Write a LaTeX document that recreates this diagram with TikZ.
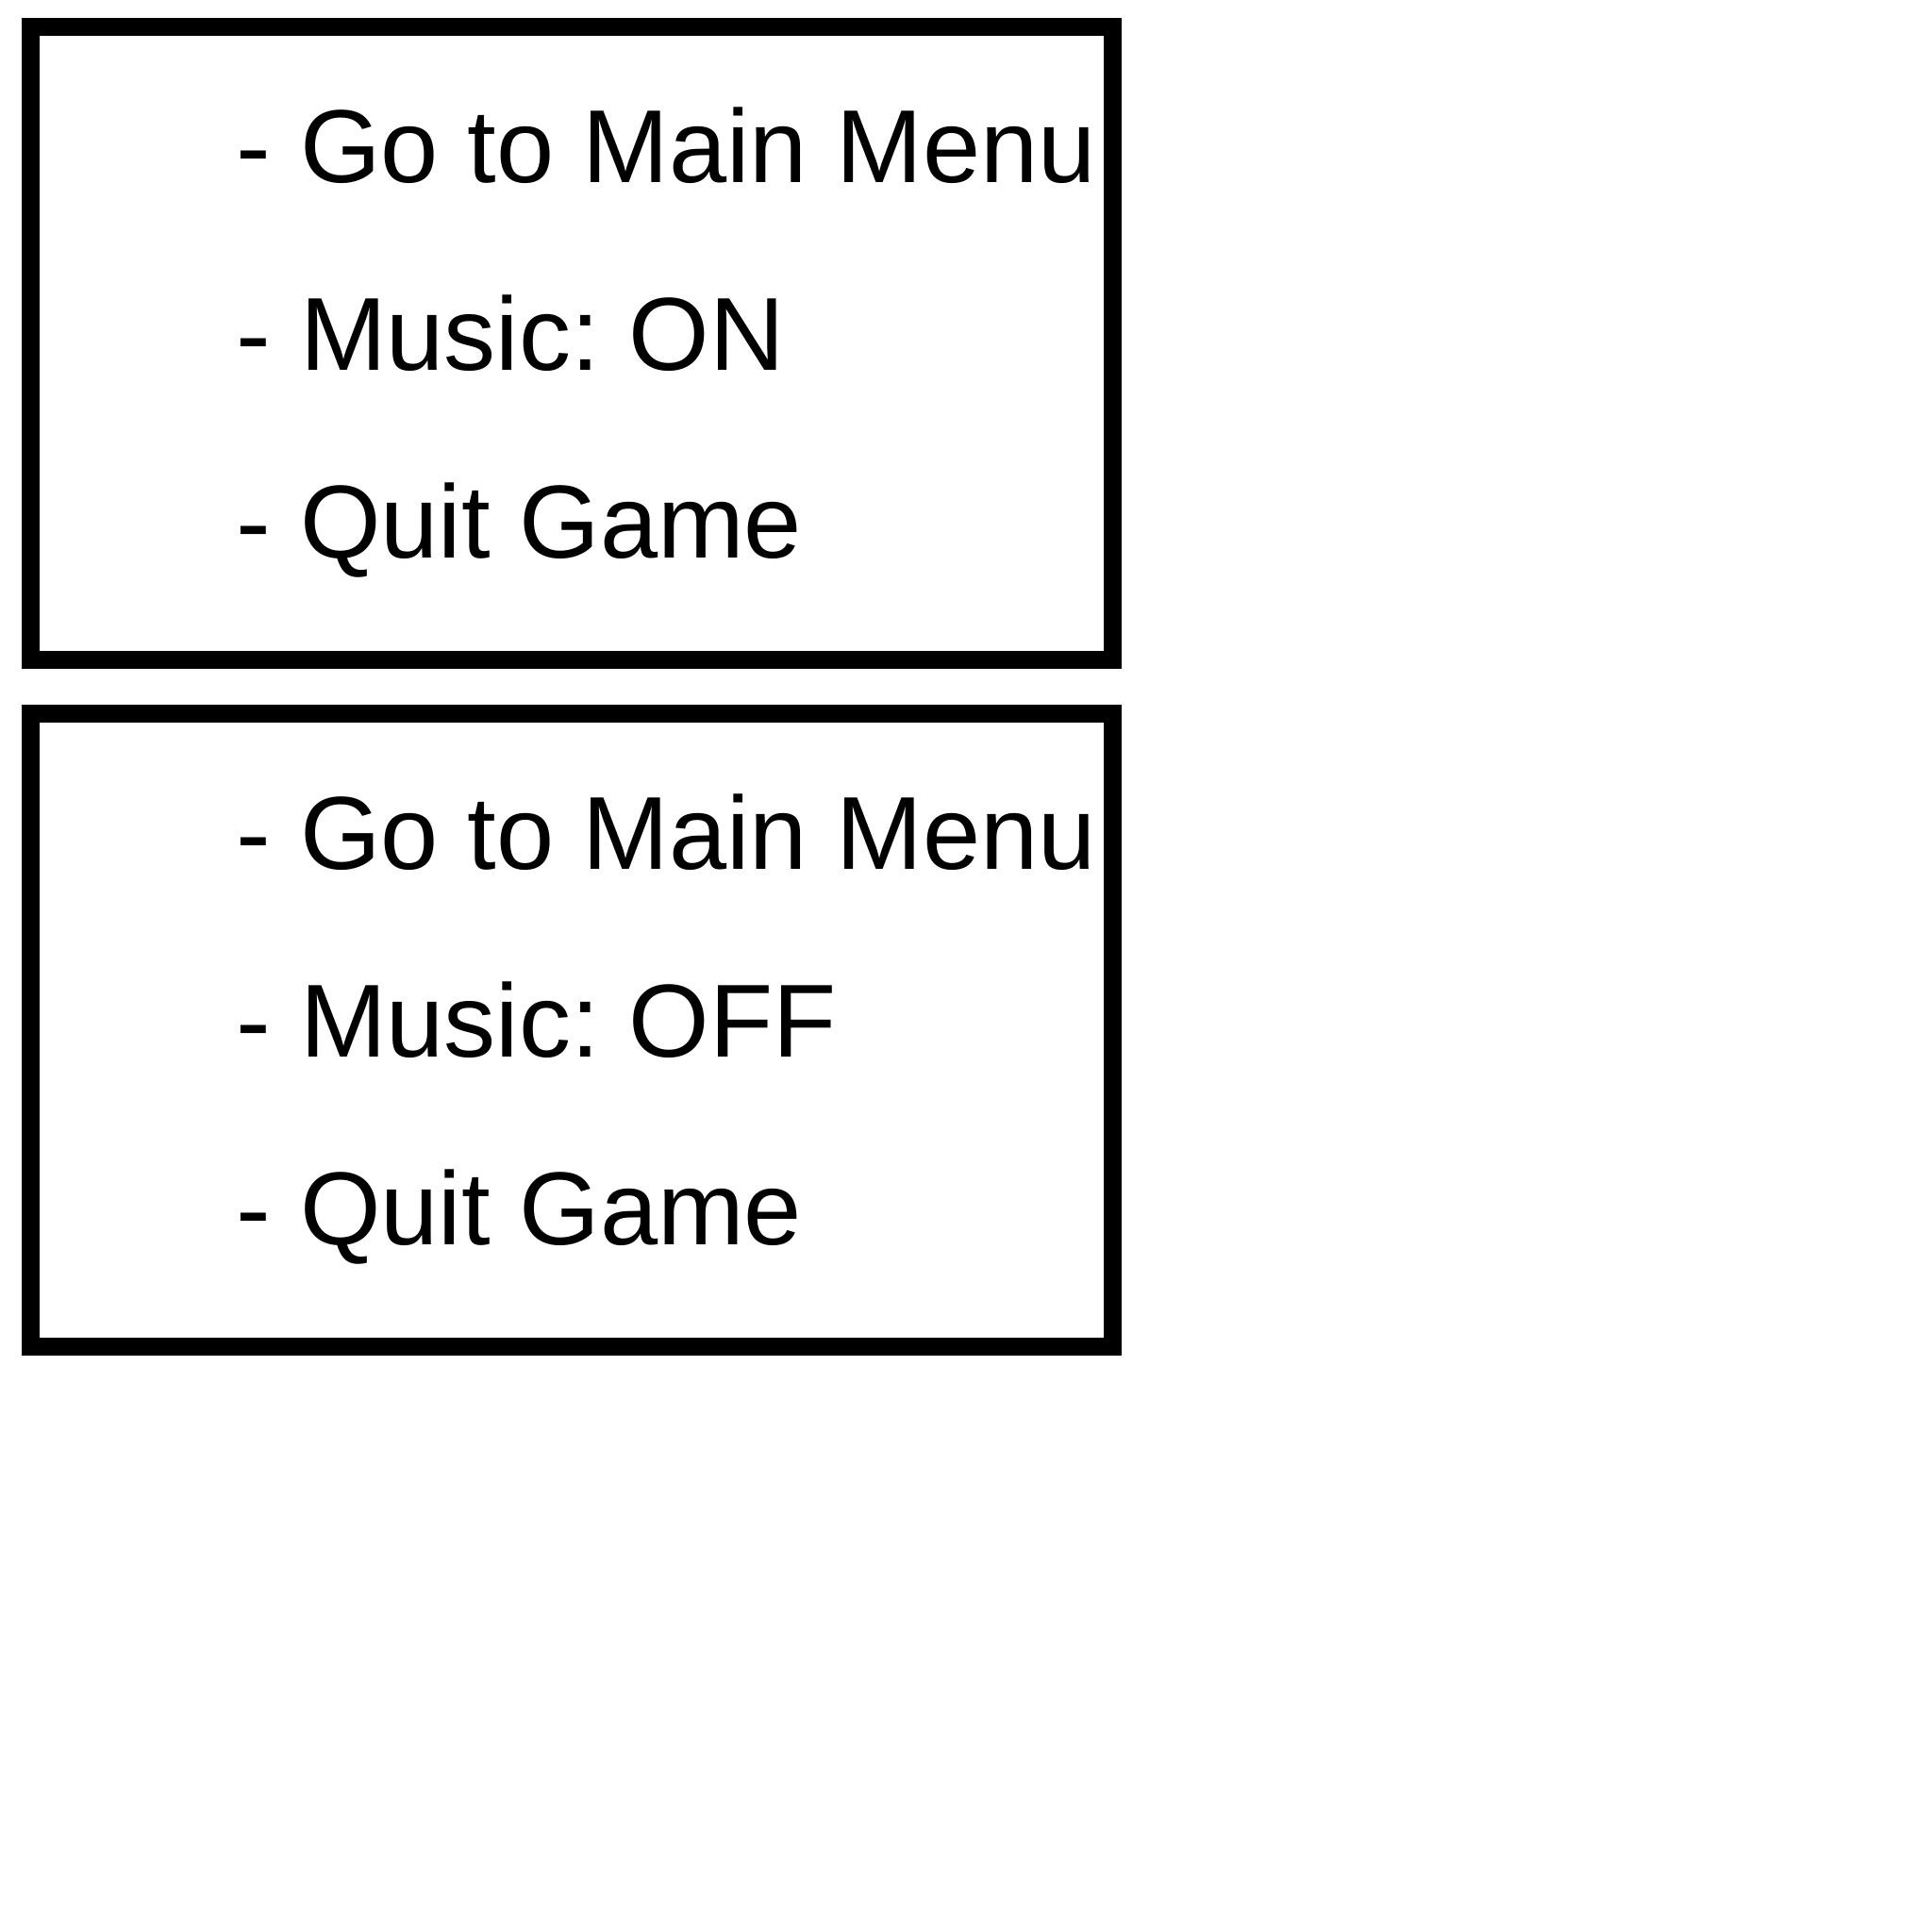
\documentclass[tikz,border=0pt]{standalone}
\usepackage{fontspec}
\setmainfont{Liberation Sans}
\frenchspacing
\usetikzlibrary{positioning}
\tikzset{
  box/.style={rectangle, draw=black, line width=5.41pt, minimum width=11.47cm, minimum height=6.71cm, inner sep=0pt},
  item/.style={inner sep=0pt, outer sep=0pt, text height=0.85cm, text depth=0.25cm, node distance=0.89cm, font=\fontsize{31.3pt}{37pt}\selectfont}
}
\begin{document}
\begin{tikzpicture}
	\useasboundingbox (0,0) rectangle (20.48,-20.48);
	% music on
	\node[box,anchor=north west] (on) at (0.23,-0.19) {};
	\node[item,anchor=base west] (ongo) at (2.51,-1.93) {- Go to Main Menu};
	\node[item] (onmusic) [below=of ongo.south west, anchor=north west] {- Music: ON};
	\node[item] (onquit) [below=of onmusic.south west, anchor=north west] {- Quit Game};

	% music off
	\node[box] (off) [below=0.38cm of on] {};
	\node[item,anchor=base west] (offgo) at (2.51,-9.21) {- Go to Main Menu};
	\node[item] (offmusic) [below=of offgo.south west, anchor=north west] {- Music: OFF};
	\node[item] (offquit) [below=of offmusic.south west, anchor=north west] {- Quit Game};
\end{tikzpicture}
\end{document}
